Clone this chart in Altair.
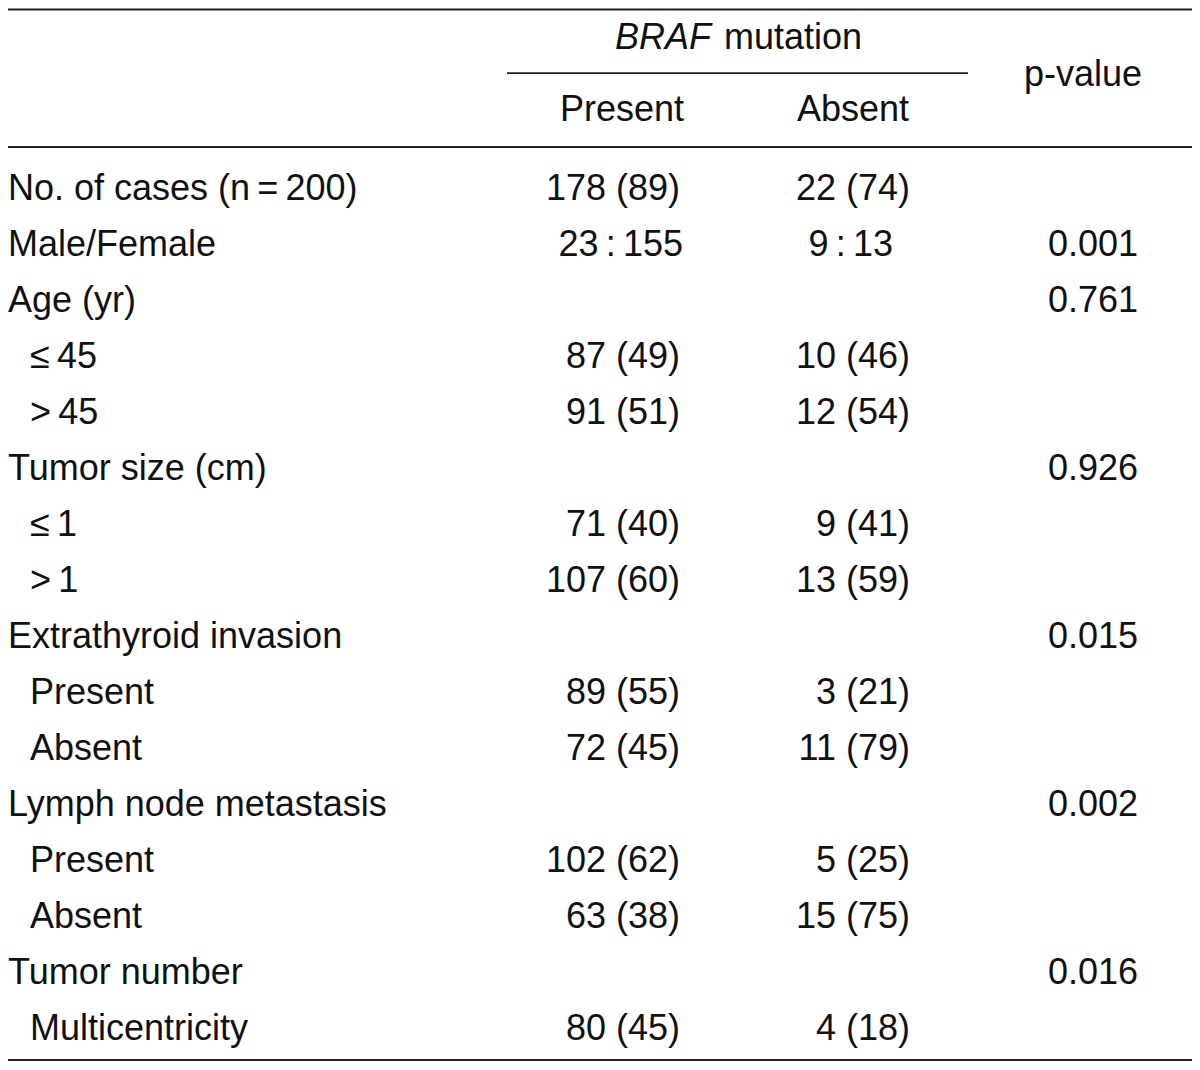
import altair as alt
import pandas as pd

labels = ["No. of cases (n\u2009=\u2009200)", "Male/Female", "Age (yr)", "\u2264\u200945", ">\u200945",
          "Tumor size (cm)", "\u2264\u20091", ">\u20091", "Extrathyroid invasion", "Present", "Absent",
          "Lymph node metastasis", "Present", "Absent", "Tumor number", "Multicentricity"]
indent = [0, 0, 0, 1, 1, 0, 1, 1, 0, 1, 1, 0, 1, 1, 0, 1]
present = ["178 (89)", "23\u2009:\u2009155", "", "87 (49)", "91 (51)", "", "71 (40)", "107 (60)", "",
           "89 (55)", "72 (45)", "", "102 (62)", "63 (38)", "", "80 (45)"]
absent = ["22 (74)", "9\u2009:\u200913", "", "10 (46)", "12 (54)", "", "9 (41)", "13 (59)", "",
          "3 (21)", "11 (79)", "", "5 (25)", "15 (75)", "", "4 (18)"]
pvals = ["", "0.001", "0.761", "", "", "0.926", "", "", "0.015", "", "", "0.002", "", "", "0.016", ""]
is_ratio = [0, 1, 0, 0, 0, 0, 0, 0, 0, 0, 0, 0, 0, 0, 0, 0]

header_group = ["BRAF", "mutation"]
header_cols = ["Present", "Absent"]
header_p = "p-value"

df = pd.DataFrame({
    "row": list(range(len(labels))),
    "label": labels,
    "indent": indent,
    "present": present,
    "absent": absent,
    "pval": pvals,
    "ratio": is_ratio,
})

FONT = "Liberation Sans"
FS = 36
W, H = 1184, 1054
yscale = alt.Scale(domain=[-181 / 56, (H - 181) / 56], reverse=True)


def txt(**kw):
    return alt.Chart(df).mark_text(font=FONT, fontSize=FS, color="#111", baseline="middle", **kw)


Y = alt.Y("row:Q", scale=yscale, axis=None)

lab_main = txt(align="left").encode(x=alt.value(0), y=Y, text="label:N").transform_filter("datum.indent == 0")
lab_sub = txt(align="left").encode(x=alt.value(22), y=Y, text="label:N").transform_filter("datum.indent == 1")
pres = txt(align="right").encode(x=alt.value(672), y=Y, text="present:N").transform_filter("datum.ratio == 0")
pres_r = txt(align="right").encode(x=alt.value(675), y=Y, text="present:N").transform_filter("datum.ratio == 1")
abs_ = txt(align="right").encode(x=alt.value(902), y=Y, text="absent:N").transform_filter("datum.ratio == 0")
abs_r = txt(align="right").encode(x=alt.value(885), y=Y, text="absent:N").transform_filter("datum.ratio == 1")
pv = txt(align="right").encode(x=alt.value(1130), y=Y, text="pval:N")

hdr = pd.DataFrame({"row": [-2.7, -2.7, -1.41, -1.41, -2.04],
                    "t": [header_group[0], header_group[1], header_cols[0], header_cols[1], header_p],
                    "k": ["it", "g", "c0", "c1", "p"]})


def htxt(k, x, align, style="normal"):
    return alt.Chart(hdr).mark_text(font=FONT, fontSize=FS, color="#111", baseline="middle",
                                    align=align, fontStyle=style).encode(
        x=alt.value(x), y=alt.Y("row:Q", scale=yscale, axis=None), text="t:N"
    ).transform_filter(f"datum.k == '{k}'")


h1 = htxt("it", 703, "right", "italic")
h2 = htxt("g", 716, "left")
h3 = htxt("c0", 614, "center")
h4 = htxt("c1", 845, "center")
h5 = htxt("p", 1075, "center")

lines = pd.DataFrame({"row": [-3.232 + 1.5 / 56, -2.07, -0.75, (1052 - 181) / 56],
                      "x1": [0, 499, 0, 0], "x2": [W, 960, W, W], "w": [2.2, 1.6, 2.2, 2.2]})
rules = alt.Chart(lines).mark_rule(color="#222").encode(
    y=alt.Y("row:Q", scale=yscale, axis=None),
    x=alt.X("x1:Q", scale=alt.Scale(domain=[0, W]), axis=None),
    x2="x2:Q",
    strokeWidth=alt.StrokeWidth("w:Q", scale=None, legend=None),
)

chart = alt.layer(rules, lab_main, lab_sub, pres, pres_r, abs_, abs_r, pv, h1, h2, h3, h4, h5).properties(
    width=W, height=H, autosize=alt.AutoSizeParams(type="none"), padding=0, background="white"
).configure_view(stroke=None)

chart.save("out.html", embed_options={"renderer": "svg", "actions": False})
